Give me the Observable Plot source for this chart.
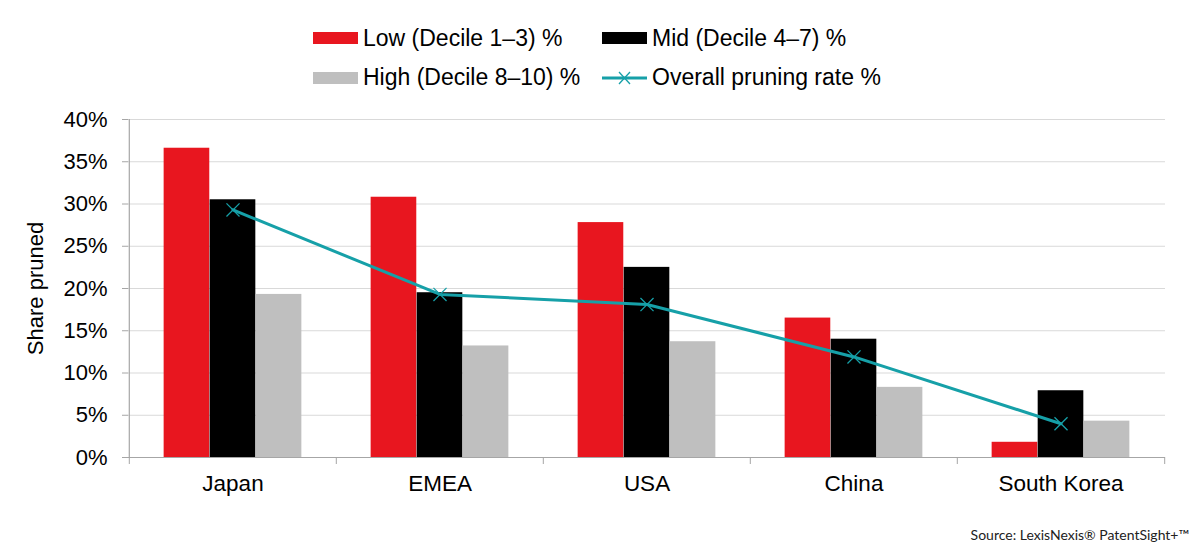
<!DOCTYPE html>
<html>
<head>
<meta charset="utf-8">
<script src="https://cdn.jsdelivr.net/npm/d3@7"></script>
<script src="https://cdn.jsdelivr.net/npm/@observablehq/plot@0.6"></script>
<style>
  html, body { margin: 0; padding: 0; background: #fff; }
  body { width: 1200px; height: 554px; position: relative; overflow: hidden; font-family: "Liberation Sans", Arial, sans-serif; }
  #legend { position: absolute; left: 0; top: 0; width: 1200px; height: 100px; }
  .li { position: absolute; display: flex; align-items: center; font-size: 23px; color: #000; white-space: nowrap; }
  .sw { width: 45px; height: 12px; margin-right: 5px; }
  #chart { position: absolute; left: 0; top: 100px; }
  #source { position: absolute; right: 11px; top: 526px; font-family: Lato, sans-serif; font-size: 14px; color: #222; }
</style>
</head>
<body>
<div id="legend"></div>
<div id="chart"></div>
<div id="source">Source: LexisNexis® PatentSight+™</div>
<script>
const countries = ["Japan", "EMEA", "USA", "China", "South Korea"];
const lowShare = [36.6, 30.8, 27.8, 16.5, 1.8];
const midShare = [30.5, 19.5, 22.5, 14.0, 7.9];
const highShare = [19.3, 13.2, 13.7, 8.3, 4.3];
const overallRate = [29.3, 19.3, 18.1, 11.9, 4.0];
const yTicks = [0, 5, 10, 15, 20, 25, 30, 35, 40];
const seriesNames = ["Low (Decile 1–3) %", "Mid (Decile 4–7) %", "High (Decile 8–10) %", "Overall pruning rate %"];
const colors = { low: "#e8161f", mid: "#000000", high: "#bfbfbf", line: "#16a0a8" };

const table = countries.map((c, i) => ({ country: c, low: lowShare[i], mid: midShare[i], high: highShare[i], overall: overallRate[i] }));

const W = 1200, H = 410, mL = 128, mR = 35, mT = 19, mB = 53;
const bw = (W - mL - mR) / countries.length;
const barW = bw * 0.222;
const g0 = (bw - 3 * barW) / 2;

const plot = Plot.plot({
  width: W, height: H,
  marginLeft: mL, marginRight: mR, marginTop: mT, marginBottom: mB,
  style: { fontFamily: "'Liberation Sans', Arial, sans-serif", background: "#fff", overflow: "visible" },
  x: { domain: countries, padding: 0, label: null },
  y: { domain: [0, 40], label: null },
  marks: [
    Plot.gridY(yTicks, { stroke: "#d9d9d9", strokeOpacity: 1, strokeWidth: 1 }),
    Plot.barY(table, { x: "country", y: "low", fill: colors.low, insetLeft: g0, insetRight: bw - g0 - barW }),
    Plot.barY(table, { x: "country", y: "mid", fill: colors.mid, insetLeft: g0 + barW, insetRight: g0 + barW }),
    Plot.barY(table, { x: "country", y: "high", fill: colors.high, insetLeft: g0 + 2 * barW, insetRight: g0 }),
    Plot.ruleY([0], { stroke: "#a6a6a6", strokeWidth: 1.2 }),
    Plot.ruleX([countries[0]], { dx: -bw / 2, stroke: "#a6a6a6", strokeWidth: 1.2 }),
    Plot.axisY(yTicks, { tickSize: 6, tickPadding: 15, stroke: "#a6a6a6", fontSize: 22, tickFormat: d => d + "%", label: null }),
    Plot.text(["Share pruned"], { frameAnchor: "left", textAnchor: "middle", dx: -93, rotate: -90, fontSize: 22, fill: "#000" }),
    Plot.axisX(countries, { tickSize: 7, dx: -bw / 2, stroke: "#a6a6a6", tickFormat: () => "", label: null }),
    Plot.axisX([countries[countries.length - 1]], { tickSize: 7, dx: bw / 2, stroke: "#a6a6a6", tickFormat: () => "", label: null }),
    Plot.axisX(countries, { tickSize: 0, tickPadding: 18, fontSize: 22.5, label: null }),
    Plot.line(table, { x: "country", y: "overall", stroke: colors.line, strokeWidth: 3 }),
    Plot.dot(table, { x: "country", y: "overall", symbol: "times", r: 6, stroke: colors.line, strokeWidth: 1.3 })
  ]
});
plot.querySelectorAll("text").forEach(t => t.setAttribute("fill", "#000"));
document.getElementById("chart").appendChild(plot);

// legend
const legend = document.getElementById("legend");
const items = [
  { name: seriesNames[0], type: "rect", color: colors.low, left: 313, top: 38 },
  { name: seriesNames[1], type: "rect", color: colors.mid, left: 602, top: 38 },
  { name: seriesNames[2], type: "rect", color: colors.high, left: 313, top: 77.5 },
  { name: seriesNames[3], type: "line", color: colors.line, left: 602, top: 77.5 }
];
items.forEach(it => {
  const d = document.createElement("div");
  d.className = "li";
  d.style.left = it.left + "px";
  d.style.top = (it.top - 14) + "px";
  d.style.height = "28px";
  if (it.type === "rect") {
    const s = document.createElement("div");
    s.className = "sw";
    s.style.background = it.color;
    d.appendChild(s);
  } else {
    const ns = "http://www.w3.org/2000/svg";
    const svg = document.createElementNS(ns, "svg");
    svg.setAttribute("width", "45"); svg.setAttribute("height", "16");
    svg.style.marginRight = "5px";
    const l = document.createElementNS(ns, "line");
    l.setAttribute("x1", 0); l.setAttribute("x2", 45); l.setAttribute("y1", 8); l.setAttribute("y2", 8);
    l.setAttribute("stroke", it.color); l.setAttribute("stroke-width", 3);
    svg.appendChild(l);
    const p = document.createElementNS(ns, "path");
    p.setAttribute("d", "M17,2L28,14M28,2L17,14");
    p.setAttribute("stroke", it.color); p.setAttribute("stroke-width", 1.3);
    svg.appendChild(p);
    d.appendChild(svg);
  }
  const t = document.createElement("span");
  t.textContent = it.name;
  d.appendChild(t);
  legend.appendChild(d);
});
</script>
</body>
</html>
